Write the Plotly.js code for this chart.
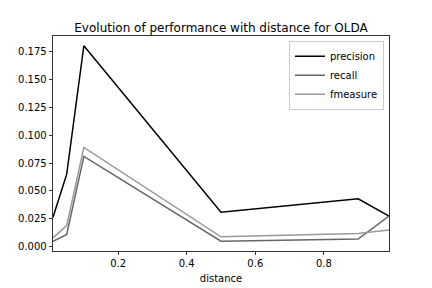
<!DOCTYPE html>
<html>
<head>
<meta charset="utf-8">
<script src="https://cdn.plot.ly/plotly-3.0.1.min.js"></script>
<style>html,body{margin:0;padding:0;background:#fff;}#chart{width:432px;height:288px;}</style>
</head>
<body>
<div id="chart"></div>
<script>
const distance = [0.01, 0.05, 0.1, 0.5, 0.9, 0.99];
const precision = [0.0265, 0.065, 0.18, 0.031, 0.043, 0.0275];
const recall = [0.005, 0.011, 0.081, 0.005, 0.007, 0.0275];
const fmeasure = [0.008, 0.019, 0.089, 0.009, 0.012, 0.015];
const seriesNames = ['precision', 'recall', 'fmeasure'];
const seriesColors = ['#000000', '#666666', '#999999'];
const yTicks = [0, 0.025, 0.05, 0.075, 0.1, 0.125, 0.15, 0.175];
const xTicks = [0.2, 0.4, 0.6, 0.8];

const allSeries = [precision, recall, fmeasure];
const traces = allSeries.map((vals, i) => ({
  x: distance, y: vals, type: 'scatter', mode: 'lines', name: seriesNames[i],
  line: {color: seriesColors[i], width: 1.5}
}));

const font = {family: 'DejaVu Sans, sans-serif', size: 10, color: '#000'};
const layout = {
  width: 432, height: 288,
  margin: {l: 53, r: 43, t: 36, b: 37},
  paper_bgcolor: '#fff', plot_bgcolor: '#fff',
  font: font,
  title: {text: 'Evolution of performance with distance for OLDA', font: {family: 'DejaVu Sans, sans-serif', size: 12, color: '#000'},
          x: 0.5, xref: 'paper', y: 1, yref: 'paper', yanchor: 'bottom', pad: {b: 4}},
  xaxis: {range: [0.01, 0.99], tickvals: xTicks, tickformat: '.1f', ticks: 'outside', ticklen: 3.5, tickwidth: 0.8, tickcolor: '#000',
          showgrid: false, zeroline: false, showline: true, linecolor: '#000', linewidth: 0.8, mirror: true,
          title: {text: 'distance', font: font, standoff: 6}},
  yaxis: {range: [-0.00375, 0.18875], tickvals: yTicks, tickformat: '.3f', ticks: 'outside', ticklen: 3.5, tickwidth: 0.8, tickcolor: '#000',
          showgrid: false, zeroline: false, showline: true, linecolor: '#000', linewidth: 0.8, mirror: true},
  showlegend: true,
  legend: {x: 0.985, y: 0.978, xanchor: 'right', yanchor: 'top', bgcolor: 'rgba(255,255,255,0.8)', bordercolor: '#cccccc', borderwidth: 1,
           font: font, tracegroupgap: 0, itemwidth: 30}
};
Plotly.newPlot('chart', traces, layout, {displayModeBar: false, staticPlot: true});
</script>
</body>
</html>
